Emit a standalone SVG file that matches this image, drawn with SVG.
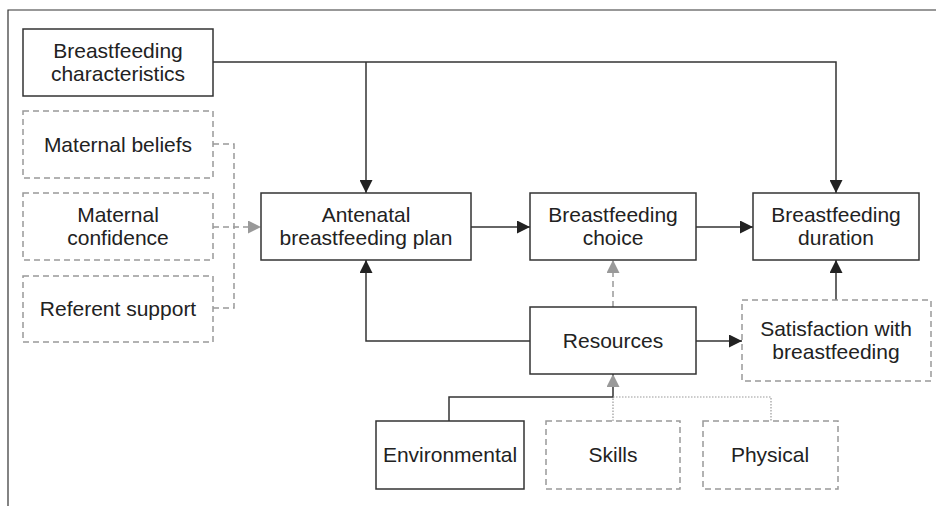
<svg xmlns="http://www.w3.org/2000/svg" width="936" height="506" viewBox="0 0 936 506">
<style>
.box{fill:#fff;stroke:#333;stroke-width:1.5}
.dbox{fill:#fff;stroke:#999;stroke-width:1.5;stroke-dasharray:6 4}
.t{font-family:"Liberation Sans",Arial,sans-serif;font-size:21px;fill:#222;text-anchor:middle}
.ln{fill:none;stroke:#333;stroke-width:1.5}
.dl{fill:none;stroke:#999;stroke-width:1.5;stroke-dasharray:6 4}
.dot{fill:none;stroke:#999;stroke-width:1.2;stroke-dasharray:1.5 1.5}
</style>
<defs>
<marker id="ab" viewBox="0 0 13 13" refX="13" refY="6.5" markerWidth="13" markerHeight="13" markerUnits="userSpaceOnUse" orient="auto"><path d="M0,0 L13,6.5 L0,13 Z" fill="#222"/></marker>
<marker id="ag" viewBox="0 0 13 13" refX="13" refY="6.5" markerWidth="13" markerHeight="13" markerUnits="userSpaceOnUse" orient="auto"><path d="M0,0 L13,6.5 L0,13 Z" fill="#999"/></marker>
</defs>
<rect width="936" height="506" fill="#fff"/>
<path d="M8,506 V10 H936" fill="none" stroke="#333" stroke-width="1.2"/>
<g id="connectors">
<path class="ln" d="M213,62 H836 V193" marker-end="url(#ab)"/>
<path class="ln" d="M366,62 V193" marker-end="url(#ab)"/>
<path class="dl" d="M213,144 H234 V308 H213"/>
<path class="dl" d="M213,227 H261" marker-end="url(#ag)"/>
<path class="ln" d="M471,227 H530" marker-end="url(#ab)"/>
<path class="ln" d="M696,227 H753" marker-end="url(#ab)"/>
<path class="dl" d="M613,307 V260" marker-end="url(#ag)"/>
<path class="ln" d="M530,341 H366 V260" marker-end="url(#ab)"/>
<path class="ln" d="M696,341 H742" marker-end="url(#ab)"/>
<path class="ln" d="M836,300 V260" marker-end="url(#ab)"/>
<path class="ln" d="M449,421 V397 H613 V374" marker-end="url(#ag)"/>
<path class="dot" d="M613,421 V397 H771 V421"/>
</g>
<g id="n-characteristics"><rect class="box" x="23" y="29" width="190" height="67"/><text class="t" x="118" y="58">Breastfeeding</text><text class="t" x="118" y="81">characteristics</text></g>
<g id="n-beliefs"><rect class="dbox" x="23" y="111" width="190" height="67"/><text class="t" x="118" y="152">Maternal beliefs</text></g>
<g id="n-confidence"><rect class="dbox" x="23" y="193" width="190" height="67"/><text class="t" x="118" y="222">Maternal</text><text class="t" x="118" y="245">confidence</text></g>
<g id="n-referent"><rect class="dbox" x="23" y="276" width="190" height="66"/><text class="t" x="118" y="316">Referent support</text></g>
<g id="n-antenatal"><rect class="box" x="261" y="193" width="210" height="67"/><text class="t" x="366" y="222">Antenatal</text><text class="t" x="366" y="245">breastfeeding plan</text></g>
<g id="n-choice"><rect class="box" x="530" y="193" width="166" height="67"/><text class="t" x="613" y="222">Breastfeeding</text><text class="t" x="613" y="245">choice</text></g>
<g id="n-duration"><rect class="box" x="753" y="193" width="166" height="67"/><text class="t" x="836" y="222">Breastfeeding</text><text class="t" x="836" y="245">duration</text></g>
<g id="n-resources"><rect class="box" x="530" y="307" width="166" height="67"/><text class="t" x="613" y="348">Resources</text></g>
<g id="n-satisfaction"><rect class="dbox" x="742" y="300" width="189" height="81"/><text class="t" x="836" y="336">Satisfaction with</text><text class="t" x="836" y="359">breastfeeding</text></g>
<g id="n-environmental"><rect class="box" x="376" y="421" width="148" height="68"/><text class="t" x="450" y="462">Environmental</text></g>
<g id="n-skills"><rect class="dbox" x="546" y="421" width="134" height="68"/><text class="t" x="613" y="462">Skills</text></g>
<g id="n-physical"><rect class="dbox" x="703" y="421" width="135" height="68"/><text class="t" x="770" y="462">Physical</text></g>
</svg>
